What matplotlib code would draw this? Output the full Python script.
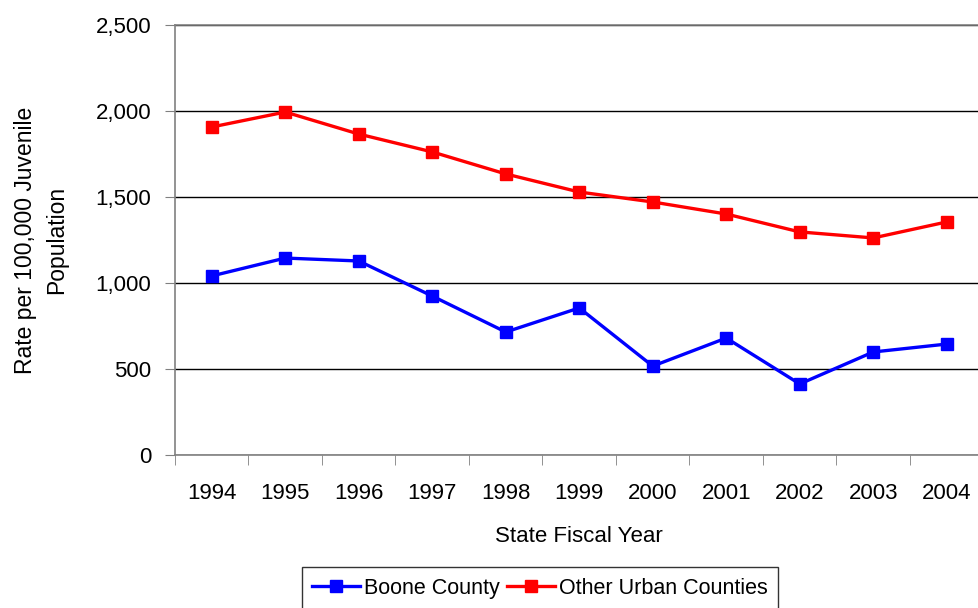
import matplotlib.pyplot as plt

plt.rcParams['font.family'] = ['Liberation Sans', 'DejaVu Sans']

years = ['1994', '1995', '1996', '1997', '1998', '1999', '2000', '2001', '2002', '2003', '2004']
boone = [1041, 1145, 1128, 924, 715, 855, 517, 680, 413, 599, 645]
other_urban = [1907, 1994, 1866, 1762, 1634, 1529, 1471, 1401, 1297, 1262, 1355]

fs = 16

fig = plt.figure(figsize=(9.79, 6.08), dpi=100)
ax = fig.add_axes([175 / 979, 1 - 455 / 608, (983.5 - 175) / 979, 430 / 608])

x = range(len(years))
ax.plot(x, boone, color='#0000FF', lw=2.4, marker='s', ms=8.5, label='Boone County')
ax.plot(x, other_urban, color='#FF0000', lw=2.4, marker='s', ms=8.5, label='Other Urban Counties')

ax.set_xlim(-0.5, len(years) - 0.5)
ax.set_ylim(0, 2500)
ax.set_yticks(range(0, 2501, 500))
ax.set_yticklabels([f'{v:,}' for v in range(0, 2501, 500)])
ax.set_xticks(x)
ax.set_xticklabels(years)
ax.set_xticks([i - 0.5 for i in range(len(years) + 1)], minor=True)
ax.tick_params(axis='x', which='major', length=0, pad=20, labelsize=fs)
ax.tick_params(axis='x', which='minor', length=7, color='#808080', direction='out')
ax.tick_params(axis='y', length=7, color='#808080', labelsize=fs, pad=10)
ax.grid(axis='y', color='black', lw=1)
ax.set_axisbelow(True)

for side in ['left', 'bottom', 'top']:
    ax.spines[side].set_color('#808080')
    ax.spines[side].set_linewidth(1.2)
ax.spines['right'].set_visible(False)

ax.set_xlabel('State Fiscal Year', fontsize=fs, labelpad=16)
fig.text(41 / 979, 1 - 240 / 608, 'Rate per 100,000 Juvenile\nPopulation', rotation=90,
         ha='center', va='center', multialignment='center', fontsize=16.5, linespacing=1.45)

leg = ax.legend(loc='upper center', bbox_to_anchor=(540 / 979, 1 - 567 / 608), bbox_transform=fig.transFigure,
                ncol=2, fontsize=15.5, frameon=True, fancybox=False, handlelength=2.2,
                handletextpad=0.2, columnspacing=0.35, borderpad=0.5, borderaxespad=0)
leg.get_frame().set_edgecolor('black')
leg.get_frame().set_linewidth(1)

plt.savefig('out.png', dpi=100)
